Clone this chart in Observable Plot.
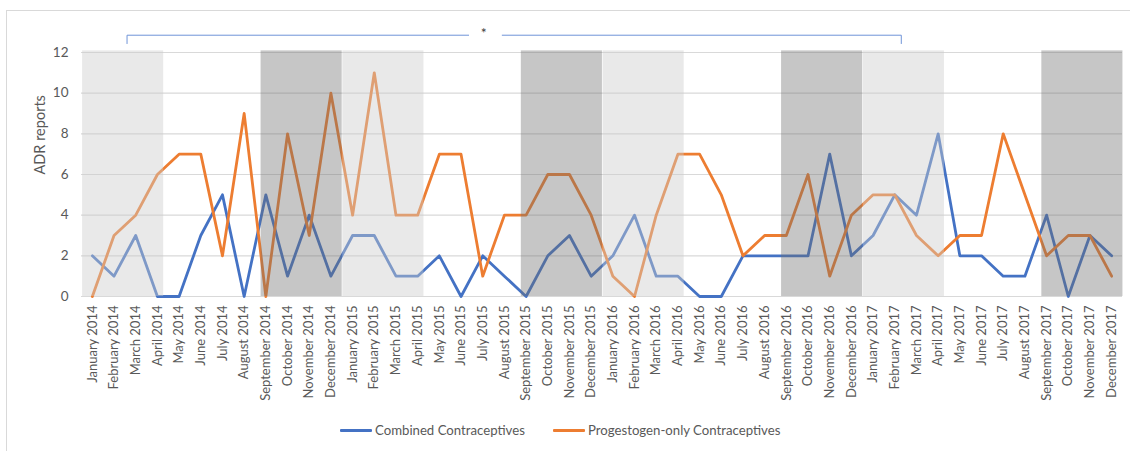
<!DOCTYPE html>
<html>
<head>
<meta charset="utf-8">
<script src="https://cdn.jsdelivr.net/npm/d3@7"></script>
<script src="https://cdn.jsdelivr.net/npm/@observablehq/plot@0.6"></script>
<style>
  body { margin: 0; background: #fff; font-family: Lato, "Open Sans", sans-serif; }
  #wrap { position: relative; width: 1130px; height: 451px; overflow: hidden; }
  #border { position: absolute; left: 6px; top: 10px; width: 1200px; height: 500px; border: 1px solid #d9d9d9; box-sizing: border-box; }
  #chart { position: absolute; left: 0; top: 0; }
  .leg { position: absolute; top: 422px; font-size: 13.2px; color: #595959; display: flex; align-items: center; white-space: nowrap; }
  .sw { display: inline-block; width: 32px; height: 3px; margin-right: 3px; border-radius: 1px; }
</style>
</head>
<body>
<div id="wrap">
  <div id="border"></div>
  <div id="chart"></div>
  <div class="leg" style="left:340px"><span class="sw" style="background:#4472c4"></span>Combined Contraceptives</div>
  <div class="leg" style="left:553px"><span class="sw" style="background:#ed7d31"></span>Progestogen-only Contraceptives</div>
</div>
<script>
const monthNames = ["January","February","March","April","May","June","July","August","September","October","November","December"];
const years = [2014, 2015, 2016, 2017];
const months = years.flatMap(y => monthNames.map(m => `${m} ${y}`));

const combined = [2,1,3,0,0,3,5,0,5,1,4,1,
                  3,3,1,1,2,0,2,1,0,2,3,1,
                  2,4,1,1,0,0,2,2,2,2,7,2,
                  3,5,4,8,2,2,1,1,4,0,3,2];
const progestogen = [0,3,4,6,7,7,2,9,0,8,3,10,
                     4,11,4,4,7,7,1,4,4,6,6,4,
                     1,0,4,7,7,5,2,3,3,6,1,4,
                     5,5,3,2,3,3,8,5,2,3,3,1];
// four-month periods: Jan-Apr, May-Aug, Sep-Dec
const periodShade = ["light","none","dark","light","none","dark","light","none","dark","light","none","dark"];
const seriesNames = ["Combined Contraceptives","Progestogen-only Contraceptives"];
const yTicks = [0,2,4,6,8,10,12];

const rows = [];
months.forEach((m, i) => {
  rows.push({i, month: m, series: seriesNames[0], value: combined[i]});
  rows.push({i, month: m, series: seriesNames[1], value: progestogen[i]});
});
const periods = periodShade.map((s, k) => ({k, shade: s})).filter(d => d.shade !== "none");

const inset = 0.13;
const shift = {light: -0.08, dark: 0.15};
const bracket = {from: 1.6, to: 37.3, gapFrom: 17.35, gapTo: 18.9, top: 12.85, foot: 12.44, star: 18.05};

const plot = Plot.plot({
  width: 1130,
  height: 410,
  marginLeft: 81,
  marginRight: 8,
  marginTop: 52,
  marginBottom: 114,
  style: {fontFamily: "Lato, 'Open Sans', sans-serif", fontSize: "13px", color: "#595959", background: "transparent"},
  x: {type: "linear", domain: [-0.5, 47.5]},
  y: {domain: [0, 12]},
  color: {domain: seriesNames, range: ["#4472c4", "#ed7d31"]},
  marks: [
    Plot.gridY(yTicks, {stroke: "#d9d9d9", strokeOpacity: 1, strokeWidth: 1.2}),
    Plot.line(rows, {x: "i", y: "value", z: "series", stroke: "series", strokeWidth: 2.8, strokeLinejoin: "round"}),
    Plot.rect(periods, {
      x1: d => d.k * 4 - 0.5 + inset + shift[d.shade],
      x2: d => d.k * 4 + 3.5 - inset + shift[d.shade],
      y1: 0, y2: 12.08,
      fill: d => d.shade === "light" ? "rgb(203,203,203)" : "rgb(110,110,110)",
      fillOpacity: d => d.shade === "light" ? 0.43 : 0.393
    }),
    Plot.axisX(d3.range(months.length), {
      tickFormat: i => months[i], tickRotate: -90, tickSize: 0, tickPadding: 9,
      fill: "#595959", fontSize: 13, label: null
    }),
    Plot.axisY(yTicks, {tickSize: 0, tickPadding: 13, fill: "#595959", fontSize: 13.5, label: null}),
    Plot.text(["ADR reports"], {frameAnchor: "left", rotate: -90, dx: -41, fill: "#595959", fontSize: 14.5}),
    // significance bracket
    Plot.line([
      {x: bracket.from, y: bracket.foot}, {x: bracket.from, y: bracket.top}, {x: bracket.gapFrom, y: bracket.top}
    ], {x: "x", y: "y", stroke: "#6f94d8", strokeWidth: 1}),
    Plot.line([
      {x: bracket.gapTo, y: bracket.top}, {x: bracket.to, y: bracket.top}, {x: bracket.to, y: bracket.foot}
    ], {x: "x", y: "y", stroke: "#6f94d8", strokeWidth: 1}),
    Plot.text(["*"], {x: bracket.star, y: bracket.top, dy: -2, fill: "#404040", fontSize: 14})
  ]
});
document.getElementById("chart").appendChild(plot);
</script>
</body>
</html>
